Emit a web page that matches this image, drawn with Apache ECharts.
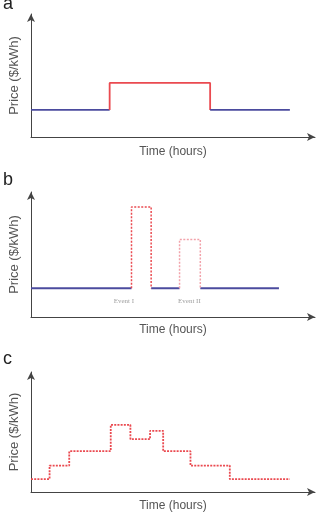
<!DOCTYPE html>
<html><head><meta charset="utf-8">
<script src="https://cdn.jsdelivr.net/npm/echarts@6/dist/echarts.min.js"></script>
<style>html,body{margin:0;padding:0;background:#fff}#c{width:321px;height:513px}</style>
</head><body><div id="c"></div>
<script>
// Panel a: flat base price with one raised block (hours / arbitrary price units)
const aBase1 = [[0, 2.2], [7.2, 2.2]];
const aPeak = [[7.2, 2.2], [7.2, 4.4], [16.4, 4.4], [16.4, 2.2]];
const aBase2 = [[16.4, 2.2], [23.7, 2.2]];
// Panel b: base price with two critical-peak events
const bBase = [[[0, 2.3], [9.2, 2.3]], [[11.0, 2.3], [13.6, 2.3]], [[15.5, 2.3], [22.7, 2.3]]];
const bEvent1 = [[9.2, 2.3], [9.2, 8.8], [11.0, 8.8], [11.0, 2.3]];
const bEvent2 = [[13.6, 2.3], [13.6, 6.2], [15.5, 6.2], [15.5, 2.3]];
const bLabels = [["Event I", 8.5, 1.3], ["Event II", 14.5, 1.3]];
// Panel c: real-time stepped price
const cSteps = [0, 1.7, 3.5, 7.3, 9.1, 10.9, 12.1, 14.6, 18.2, 23.7];
const cPrices = [1.07, 2.2, 3.4, 5.6, 4.4, 5.1, 3.4, 2.2, 1.07];
const panelLetters = ["a", "b", "c"];

const blue = '#4b4b9e', red = '#ea4a50', pink = '#f2a2aa';
const grids = [
  {left: 29, right: 6, top: 14, height: 123},
  {left: 29, right: 6, top: 192, height: 125},
  {left: 29, right: 6, top: 372, height: 122}
];
const nameGapsX = [9, 7, 8];
const axisLine = {lineStyle: {color: '#444', width: 1}, symbol: ['none', 'arrow'], symbolSize: [6, 8]};
const xAxes = grids.map((g, i) => ({
  type: 'value', gridIndex: i, min: 0, max: 26,
  axisLine, axisTick: {show: false}, axisLabel: {show: false}, splitLine: {show: false},
  name: 'Time (hours)', nameLocation: 'middle', nameGap: nameGapsX[i],
  nameTextStyle: {color: '#555', fontSize: 12, fontFamily: 'Liberation Sans'}
}));
const yAxes = grids.map((g, i) => ({
  type: 'value', gridIndex: i, min: 0, max: 10,
  axisLine, axisTick: {show: false}, axisLabel: {show: false}, splitLine: {show: false},
  name: 'Price ($/kWh)', nameLocation: 'middle', nameGap: 10,
  nameTextStyle: {color: '#555', fontSize: 13, fontFamily: 'Liberation Sans'}
}));
function line(i, data, color, type, width) {
  return {type: 'line', xAxisIndex: i, yAxisIndex: i, data, symbol: 'none', animation: false,
    lineStyle: {color, width: width || 1.8, type: type || 'solid'}, silent: true};
}
const series = [];
series.push(line(0, aBase1, blue), line(0, aPeak, red), line(0, aBase2, blue));
bBase.forEach(d => series.push(line(1, d, blue, 'solid', 2)));
series.push(line(1, bEvent1, red, [2, 1.5], 1.5), line(1, bEvent2, pink, [2, 1.5], 1.5));
series.push({type: 'scatter', xAxisIndex: 1, yAxisIndex: 1, symbolSize: 0, animation: false,
  data: bLabels.map(l => ({value: [l[1], l[2]], name: l[0]})),
  label: {show: true, position: 'inside', formatter: p => p.name, color: '#888', fontSize: 7, fontFamily: 'Liberation Serif'}});
const cData = cPrices.map((p, k) => [cSteps[k], p]);
cData.push([cSteps[cSteps.length - 1], cPrices[cPrices.length - 1]]);
const cs = line(2, cData, red, [2, 1.2], 1.8); cs.step = 'end';
series.push(cs);

const chart = echarts.init(document.getElementById('c'), null, {renderer: 'canvas'});
chart.setOption({
  animation: false,
  title: panelLetters.map((t, i) => ({text: t, left: 3, top: [-5, 171, 350][i], padding: 0,
    textStyle: {fontSize: 18, fontWeight: 'normal', color: '#222', fontFamily: 'Liberation Sans'}})),
  grid: grids, xAxis: xAxes, yAxis: yAxes, series
});
</script></body></html>
